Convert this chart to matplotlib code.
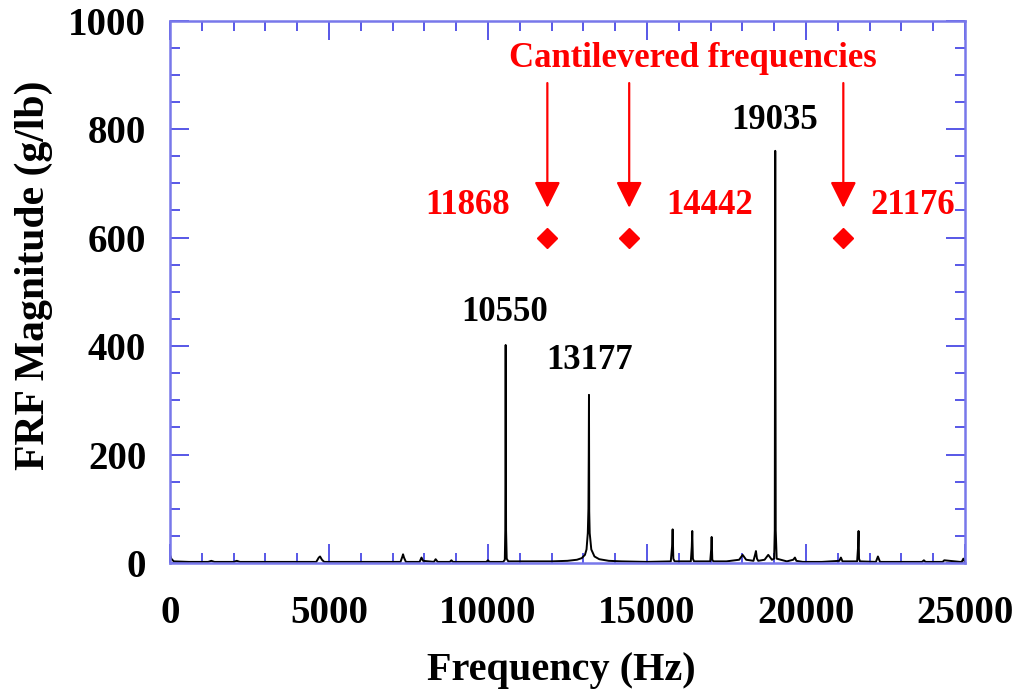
import matplotlib.pyplot as plt
from matplotlib.ticker import MultipleLocator

plt.rcParams['font.family'] = ['Liberation Serif', 'DejaVu Serif']
plt.rcParams['font.weight'] = 'bold'

# Espectro FRF (vértices)
freq = [0, 40, 120, 600, 1200, 1300, 1400, 2000, 2100, 2200, 3000, 4600, 4680, 4720, 4780,
        4850, 6000, 7250, 7310, 7330, 7360, 7420, 7850, 7910, 7960, 8300, 8355, 8420,
        8800, 8850, 8900, 9950, 10000, 10050, 10480, 10530, 10545, 10557, 10570, 10590,
        10640, 11500, 12000, 12500, 12800, 12950, 13050, 13100, 13140, 13160, 13170,
        13177, 13185, 13200, 13250, 13350, 13500, 13800, 14200, 15000, 15750, 15790,
        15808, 15830, 15870, 16380, 16410, 16425, 16445, 16480, 16990, 17020, 17035,
        17055, 17090, 17500, 17900, 18010, 18120, 18350, 18400, 18428, 18460, 18500,
        18700, 18815, 18930, 19000, 19020, 19035, 19050, 19080, 19400, 19600, 19654,
        19700, 19900, 20500, 21050, 21100, 21150, 21610, 21640, 21655, 21670, 21700,
        22200, 22264, 22330, 23000, 23650, 23710, 23760, 24300, 24350, 24850, 24900,
        24950, 25000]
mag = [15, 8, 3, 2, 2, 4, 2, 2, 4, 2, 2, 2, 10, 12, 6,
       2, 2, 2, 12, 16, 10, 2, 2, 10, 4, 2, 7, 2,
       2, 5, 2, 2, 5, 2, 2, 6, 60, 402, 60, 8,
       3, 3, 3, 4, 6, 9, 15, 25, 55, 100, 200,
       310, 95, 55, 25, 12, 7, 4, 3, 2, 3, 30,
       62, 8, 3, 3, 30, 59, 8, 3, 3, 25, 48,
       6, 3, 3, 6, 15, 6, 4, 15, 22, 8, 4,
       6, 15, 6, 8, 60, 760, 60, 8, 3, 6, 10,
       4, 2, 2, 4, 10, 3, 3, 30, 59, 8, 3,
       2, 12, 2, 2, 2, 5, 2, 2, 5, 2, 2,
       8, 2]

# Frequências do modelo engastado
cant_freq = [11868, 14442, 21176]
cant_mag = [600, 600, 600]
cant_labels = ['11868', '14442', '21176']
cant_label_x = [9370, 16980, 23370]

# Picos medidos
peak_labels = ['10550', '13177', '19035']
peak_label_x = [10535, 13210, 19025]
peak_label_y = [462, 374, 816]

fig = plt.figure(figsize=(10.32, 6.96), dpi=100)
ax = fig.add_axes([0.1647, 0.1911, 0.7703, 0.7792])

ax.plot(freq, mag, color='black', linewidth=1.4)

ax.plot(cant_freq, cant_mag, linestyle='none', marker='D', markersize=10.5,
        color='red', markeredgecolor='red')

for f in cant_freq:
    ax.annotate('', xy=(f, 655), xytext=(f, 885),
                arrowprops=dict(arrowstyle='-|>,head_length=1.6,head_width=0.8',
                                color='red', lw=1.6, shrinkA=0, shrinkB=0))

for lab, lx in zip(cant_labels, cant_label_x):
    ax.text(lx, 660, lab, color='red', fontsize=25, fontweight='bold',
            ha='center', va='center')

ax.text(16450, 930, 'Cantilevered frequencies', color='red', fontsize=25,
        fontweight='bold', ha='center', va='center')

for lab, lx, ly in zip(peak_labels, peak_label_x, peak_label_y):
    ax.text(lx, ly, lab, color='black', fontsize=25, fontweight='bold',
            ha='center', va='center')

ax.set_xlim(0, 25000)
ax.set_ylim(0, 1000)
ax.xaxis.set_major_locator(MultipleLocator(5000))
ax.xaxis.set_minor_locator(MultipleLocator(1000))
ax.yaxis.set_major_locator(MultipleLocator(200))
ax.yaxis.set_minor_locator(MultipleLocator(50))

for sp in ax.spines.values():
    sp.set_color('#7878ea')
    sp.set_linewidth(1.8)
ax.tick_params(which='both', direction='in', top=True, right=True, color='#2a2ae0',
               width=1.1)
ax.tick_params(which='major', length=13.5, labelsize=28)
ax.tick_params(which='minor', length=7)
ax.tick_params(axis='x', which='major', pad=23)
ax.tick_params(axis='y', which='major', pad=17)

ax.set_xlabel('Frequency (Hz)', fontsize=29, fontweight='bold')
ax.set_ylabel('FRF Magnitude (g/lb)', fontsize=30, fontweight='bold')
ax.xaxis.set_label_coords(0.492, -0.165)
ax.yaxis.set_label_coords(-0.147, 0.53)

fig.savefig('out.png', dpi=100)
